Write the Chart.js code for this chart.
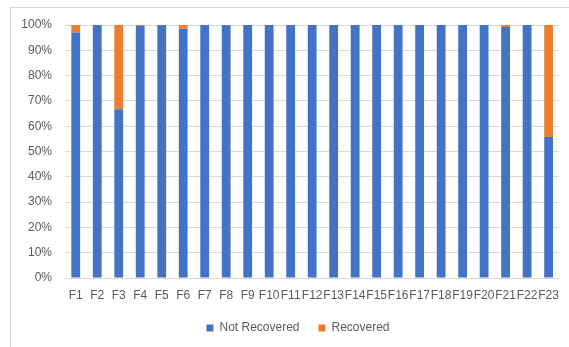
<!DOCTYPE html>
<html>
<head>
<meta charset="utf-8">
<script src="https://cdn.jsdelivr.net/npm/chart.js@4"></script>
<style>
  html, body { margin: 0; padding: 0; background: #fff; }
  #wrap { position: relative; width: 569px; height: 347px; overflow: hidden; background: #fff; }
  #frame { position: absolute; left: 10px; top: 7px; width: 600px; height: 400px; border-left: 1px solid #d9d9d9; border-top: 1px solid #d9d9d9; box-sizing: border-box; }
  #c { position: absolute; left: 0; top: 0; }
</style>
</head>
<body>
<div id="wrap">
  <div id="frame"></div>
  <canvas id="c" width="569" height="347"></canvas>
</div>
<script>
const categories = ['F1','F2','F3','F4','F5','F6','F7','F8','F9','F10','F11','F12','F13','F14','F15','F16','F17','F18','F19','F20','F21','F22','F23'];
const notRecovered = [97, 100, 66.7, 99.6, 100, 98.5, 100, 100, 100, 100, 100, 100, 100, 100, 100, 100, 100, 100, 100, 100, 99.2, 100, 55.7];
const recovered    = [3, 0, 33.3, 0.4, 0, 1.5, 0, 0, 0, 0, 0, 0, 0, 0, 0, 0, 0, 0, 0, 0, 0.8, 0, 44.3];
const yTicks = [0, 10, 20, 30, 40, 50, 60, 70, 80, 90, 100];
const seriesNames = ['Not Recovered', 'Recovered'];

const textColor = '#595959';
const fontSpec = { family: '"Liberation Sans", Arial, sans-serif', size: 12 };

const legendShift = {
  id: 'legendShift',
  afterLayout(chart) {
    if (chart.legend) { chart.legend.left += 8; chart.legend.right += 8; }
  }
};

new Chart(document.getElementById('c'), {
  type: 'bar',
  data: {
    labels: categories,
    datasets: [
      { label: seriesNames[0], data: notRecovered, backgroundColor: '#4472C4', borderWidth: 0 },
      { label: seriesNames[1], data: recovered, backgroundColor: '#ED7D31', borderWidth: 0 }
    ]
  },
  options: {
    responsive: false,
    animation: false,
    devicePixelRatio: 1,
    layout: { padding: { left: 14, right: 3, top: 25, bottom: 3 } },
    datasets: { bar: { barPercentage: 0.41, categoryPercentage: 1.0 } },
    scales: {
      x: {
        stacked: true,
        grid: { display: false, drawTicks: false },
        border: { display: false },
        ticks: { color: textColor, font: fontSpec, autoSkip: false, minRotation: 0, maxRotation: 0, padding: 10 },
        afterFit: (s) => { s.height = 25; }
      },
      y: {
        stacked: true,
        min: 0,
        max: 100,
        grid: { color: '#d9d9d9', drawTicks: false, lineWidth: 1 },
        border: { display: false },
        afterBuildTicks: (s) => { s.ticks = yTicks.map(v => ({ value: v })); },
        ticks: { color: textColor, font: fontSpec, padding: 13, callback: (v) => v + '%' },
        afterFit: (s) => { s.width = 51; }
      }
    },
    plugins: {
      legend: {
        position: 'bottom',
        maxHeight: 45,
        labels: { color: textColor, font: fontSpec, boxWidth: 7, boxHeight: 7, padding: 19 }
      },
      tooltip: { enabled: false }
    }
  },
  plugins: [legendShift]
});
</script>
</body>
</html>
